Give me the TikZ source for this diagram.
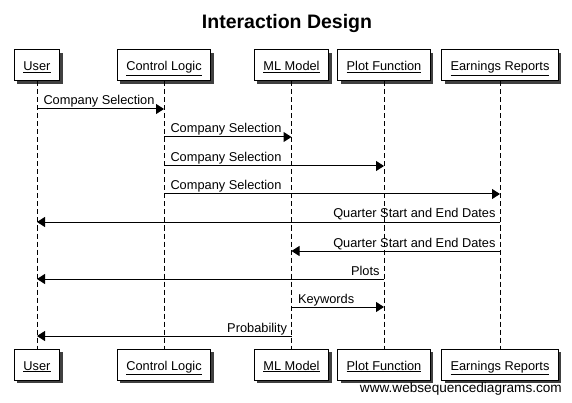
\documentclass[tikz,border=0pt]{standalone}
\usepackage{fontspec}
\setmainfont{Liberation Sans}
\usetikzlibrary{arrows.meta, shadows}

\begin{document}
\begin{tikzpicture}[
  x=1pt, y=-1pt,
  font=\fontsize{12.8}{15}\selectfont,
  actor/.style={draw=black, line width=1pt, fill=white, minimum height=31pt, inner xsep=9pt, inner ysep=0pt,
    text height=12pt, text depth=1pt,
    drop shadow={shadow xshift=3pt, shadow yshift=-3pt, fill=black!75, opacity=1}},
  lifeline/.style={line width=1pt, dash pattern=on 5pt off 3pt},
  msg/.style={line width=1pt, -{Triangle[length=8pt, width=10pt]}},
  lbl/.style={inner sep=0pt, pos=0, yshift=4pt},
  fwd/.style={lbl, anchor=base west, xshift=6pt},
  back/.style={lbl, anchor=base east, xshift=-4pt}
]
\useasboundingbox[fill=white] (0,0) rectangle (572,403);

\node[font=\fontsize{19.5}{22}\selectfont\bfseries, anchor=base] (title) at (287,29) {Interaction Design};

% participants, top row
\node[actor] (user) at (37,65.5) {\underline{User}};
\node[actor] (ctrl) at (164,65.5) {\underline{Control Logic}};
\node[actor] (model) at (291.5,65.5) {\underline{ML Model}};
\node[actor] (plot) at (384,65.5) {\underline{Plot Function}};
\node[actor] (earn) at (500,65.5) {\underline{Earnings Reports}};

% participants, bottom row
\node[actor] (userB) at (37,364.5) {\underline{User}};
\node[actor] (ctrlB) at (164,364.5) {\underline{Control Logic}};
\node[actor] (modelB) at (291.5,364.5) {\underline{ML Model}};
\node[actor] (plotB) at (384,364.5) {\underline{Plot Function}};
\node[actor] (earnB) at (500,364.5) {\underline{Earnings Reports}};

\draw[lifeline] (user) -- (userB);
\draw[lifeline] (ctrl) -- (ctrlB);
\draw[lifeline] (model) -- (modelB);
\draw[lifeline] (plot) -- (plotB);
\draw[lifeline] (earn) -- (earnB);

% messages
\draw[msg] (user |- 0,109) -- node[fwd] {Company Selection} (ctrl |- 0,109);
\draw[msg] (ctrl |- 0,137) -- node[fwd] {Company Selection} (model |- 0,137);
\draw[msg] (ctrl |- 0,166) -- node[fwd] {Company Selection} (plot |- 0,166);
\draw[msg] (ctrl |- 0,194) -- node[fwd] {Company Selection} (earn |- 0,194);
\draw[msg] (earn |- 0,222) -- node[back] {Quarter Start and End Dates} (user |- 0,222);
\draw[msg] (earn |- 0,251) -- node[back] {Quarter Start and End Dates} (model |- 0,251);
\draw[msg] (plot |- 0,279) -- node[back] {Plots} (user |- 0,279);
\draw[msg] (model |- 0,307) -- node[fwd] {Keywords} (plot |- 0,307);
\draw[msg] (model |- 0,336) -- node[back] {Probability} (user |- 0,336);

\node[font=\fontsize{13.6}{16}\selectfont, anchor=base east, inner sep=0pt] (credit) at (562,392) {www.websequencediagrams.com};
\end{tikzpicture}
\end{document}
